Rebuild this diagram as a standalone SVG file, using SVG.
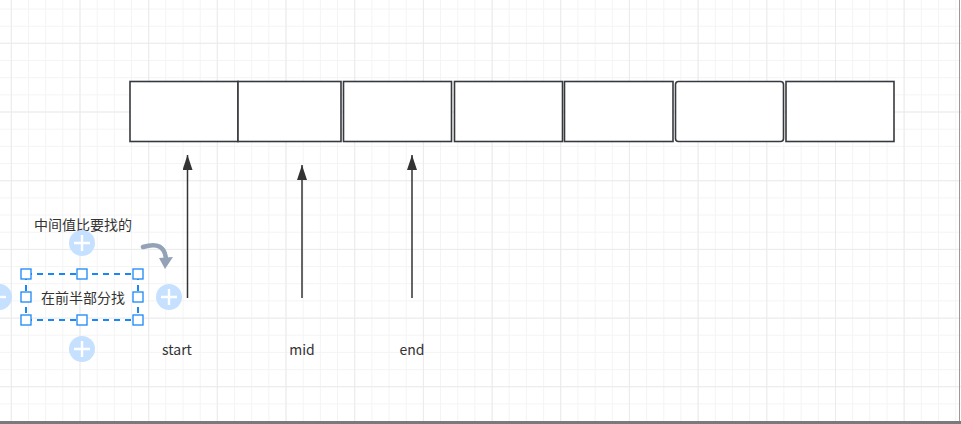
<svg xmlns="http://www.w3.org/2000/svg" width="961" height="424" viewBox="0 0 961 424">
<defs>
<style>
.box{fill:#ffffff;stroke:#36393d;stroke-width:1.6}
.conn{stroke:#333333;stroke-width:1.5;fill:none}
.lbl{font-family:"Noto Sans CJK SC","Liberation Sans",sans-serif;font-size:14px;fill:#333333;text-anchor:middle}
.h{fill:#ffffff;stroke:#1a87f5;stroke-width:1.3}
.plus{fill:#c6e0ff}
.pl{stroke:#ffffff;stroke-width:2.4}
</style>
<marker id="ah" markerWidth="15" markerHeight="10" refX="15" refY="5" orient="auto" markerUnits="userSpaceOnUse" viewBox="0 0 15 10">
<path d="M0 0 L15 5 L0 10 Z" fill="#333333"/>
</marker>
</defs>
<rect x="0" y="0" width="961" height="424" fill="#ffffff"/>
<g id="grid">
<path fill="none" stroke="#f4f4f4" stroke-width="1" d="M11.3 0V424M28.5 0V424M45.6 0V424M62.8 0V424M80 0V424M97.2 0V424M114.3 0V424M131.5 0V424M148.7 0V424M165.8 0V424M183 0V424M200.2 0V424M217.3 0V424M234.5 0V424M251.7 0V424M268.9 0V424M286 0V424M303.2 0V424M320.4 0V424M337.5 0V424M354.7 0V424M371.9 0V424M389 0V424M406.2 0V424M423.4 0V424M440.5 0V424M457.7 0V424M474.9 0V424M492.1 0V424M509.2 0V424M526.4 0V424M543.6 0V424M560.7 0V424M577.9 0V424M595.1 0V424M612.3 0V424M629.4 0V424M646.6 0V424M663.8 0V424M680.9 0V424M698.1 0V424M715.3 0V424M732.4 0V424M749.6 0V424M766.8 0V424M783.9 0V424M801.1 0V424M818.3 0V424M835.5 0V424M852.6 0V424M869.8 0V424M887 0V424M904.1 0V424M921.3 0V424M938.5 0V424M955.7 0V424M0 9H961M0 26.2H961M0 43.3H961M0 60.5H961M0 77.7H961M0 94.9H961M0 112H961M0 129.2H961M0 146.4H961M0 163.5H961M0 180.7H961M0 197.9H961M0 215H961M0 232.2H961M0 249.4H961M0 266.6H961M0 283.7H961M0 300.9H961M0 318.1H961M0 335.2H961M0 352.4H961M0 369.6H961M0 386.7H961M0 403.9H961"/>
<path fill="none" stroke="#ebebeb" stroke-width="1" d="M11.3 0V424M80 0V424M148.7 0V424M217.3 0V424M286 0V424M354.7 0V424M423.4 0V424M492.1 0V424M560.7 0V424M629.4 0V424M698.1 0V424M766.8 0V424M835.5 0V424M904.1 0V424M0 43.3H961M0 112H961M0 180.7H961M0 249.4H961M0 318.1H961M0 386.7H961"/>
</g>
<g id="frame">
<line x1="959.5" y1="0" x2="959.5" y2="424" stroke="#9a9a9a" stroke-width="1"/>
<rect x="0" y="421" width="961" height="3" fill="#7a7a7a"/>
</g>
<g id="cell1"><rect class="box" x="130" y="81.5" width="108" height="60"/></g>
<g id="cell2"><rect class="box" x="238" y="81.5" width="103" height="60"/></g>
<g id="cell3"><rect class="box" x="343.5" y="81.5" width="108" height="60"/></g>
<g id="cell4"><rect class="box" x="454.5" y="81.5" width="108" height="60"/></g>
<g id="cell5"><rect class="box" x="564.5" y="81.5" width="108.5" height="60"/></g>
<g id="cell6"><rect class="box" x="675.5" y="81.5" width="108" height="60" rx="3"/></g>
<g id="cell7"><rect class="box" x="786" y="81.5" width="108" height="60"/></g>
<g id="connectors">
<line class="conn" x1="187.5" y1="298" x2="187.5" y2="155" marker-end="url(#ah)"/>
<line class="conn" x1="302" y1="298" x2="302" y2="165" marker-end="url(#ah)"/>
<line class="conn" x1="412" y1="298" x2="412" y2="155" marker-end="url(#ah)"/>
</g>
<g id="label-start"><text class="lbl" x="177" y="355">start</text></g>
<g id="label-mid"><text class="lbl" x="302" y="355">mid</text></g>
<g id="label-end"><text class="lbl" x="412" y="355">end</text></g>
<g id="note-top"><text class="lbl" x="83" y="230">中间值比要找的</text></g>
<g id="note-selected">
<text class="lbl" x="83" y="303">在前半部分找</text>
<path d="M26 274H138M26 320H138" fill="none" stroke="#1a87f5" stroke-width="2" stroke-dasharray="6 5"/>
<path d="M26 274V320M138 274V320" fill="none" stroke="#1a87f5" stroke-width="2" stroke-dasharray="6 5"/>
<rect class="h" x="21" y="269" width="10" height="10"/>
<rect class="h" x="77" y="269" width="10" height="10"/>
<rect class="h" x="133" y="269" width="10" height="10"/>
<rect class="h" x="21" y="292" width="10" height="10"/>
<rect class="h" x="133" y="292" width="10" height="10"/>
<rect class="h" x="21" y="315" width="10" height="10"/>
<rect class="h" x="77" y="315" width="10" height="10"/>
<rect class="h" x="133" y="315" width="10" height="10"/>
</g>
<g id="ui-icons">
<circle class="plus" cx="82" cy="243" r="13"/>
<path class="pl" d="M82 235V251M74 243H90"/>
<circle class="plus" cx="169" cy="297" r="13"/>
<path class="pl" d="M169 289V305M161 297H177"/>
<circle class="plus" cx="82" cy="349" r="13"/>
<path class="pl" d="M82 341V357M74 349H90"/>
<circle class="plus" cx="-1" cy="297" r="13"/>
<path class="pl" d="M-9 297H6"/>
<path d="M143 247 Q165 240 166 260" fill="none" stroke="#93a2b6" stroke-width="4.5" stroke-linecap="round"/>
<path d="M159 258 L173 257 L165 269 Z" fill="#93a2b6"/>
</g>
</svg>
